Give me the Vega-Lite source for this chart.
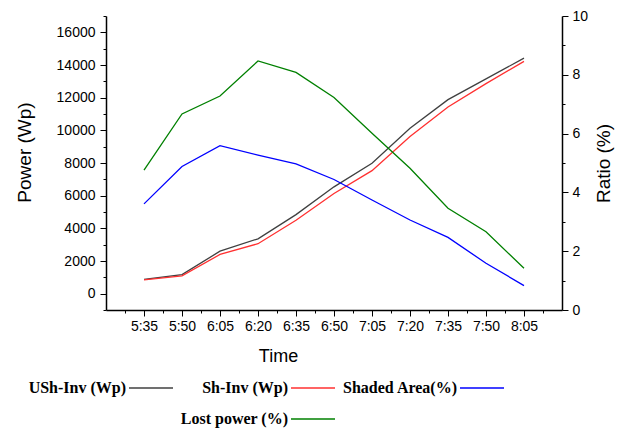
{
  "$schema": "https://vega.github.io/schema/vega-lite/v6.json",
  "width": 456,
  "height": 294,
  "autosize": "none",
  "padding": {"left": 106, "top": 16, "right": 65, "bottom": 122},
  "background": "white",
  "config": {
    "view": {"stroke": null},
    "axis": {
      "grid": false,
      "domainColor": "#000",
      "domainWidth": 1.5,
      "tickColor": "#000",
      "tickWidth": 1,
      "labelFont": "Liberation Sans",
      "labelFontSize": 14,
      "labelColor": "#000",
      "titleFont": "Liberation Sans",
      "titleFontSize": 19,
      "titleFontWeight": "normal",
      "titleColor": "#000"
    }
  },
  "data": {
    "values": [
      {"time": 335, "series": "USh-Inv (Wp)", "value": 880},
      {"time": 350, "series": "USh-Inv (Wp)", "value": 1170},
      {"time": 365, "series": "USh-Inv (Wp)", "value": 2600},
      {"time": 380, "series": "USh-Inv (Wp)", "value": 3360},
      {"time": 395, "series": "USh-Inv (Wp)", "value": 4840},
      {"time": 410, "series": "USh-Inv (Wp)", "value": 6540},
      {"time": 425, "series": "USh-Inv (Wp)", "value": 7980},
      {"time": 440, "series": "USh-Inv (Wp)", "value": 10130},
      {"time": 455, "series": "USh-Inv (Wp)", "value": 11880},
      {"time": 470, "series": "USh-Inv (Wp)", "value": 13150},
      {"time": 485, "series": "USh-Inv (Wp)", "value": 14420},
      {"time": 335, "series": "Sh-Inv (Wp)", "value": 840},
      {"time": 350, "series": "Sh-Inv (Wp)", "value": 1090},
      {"time": 365, "series": "Sh-Inv (Wp)", "value": 2400},
      {"time": 380, "series": "Sh-Inv (Wp)", "value": 3060},
      {"time": 395, "series": "Sh-Inv (Wp)", "value": 4490},
      {"time": 410, "series": "Sh-Inv (Wp)", "value": 6130},
      {"time": 425, "series": "Sh-Inv (Wp)", "value": 7530},
      {"time": 440, "series": "Sh-Inv (Wp)", "value": 9620},
      {"time": 455, "series": "Sh-Inv (Wp)", "value": 11430},
      {"time": 470, "series": "Sh-Inv (Wp)", "value": 12860},
      {"time": 485, "series": "Sh-Inv (Wp)", "value": 14220},
      {"time": 335, "series": "Shaded Area(%)", "value": 3.61},
      {"time": 350, "series": "Shaded Area(%)", "value": 4.88},
      {"time": 365, "series": "Shaded Area(%)", "value": 5.59},
      {"time": 380, "series": "Shaded Area(%)", "value": 5.27},
      {"time": 395, "series": "Shaded Area(%)", "value": 4.97},
      {"time": 410, "series": "Shaded Area(%)", "value": 4.44},
      {"time": 425, "series": "Shaded Area(%)", "value": 3.74},
      {"time": 440, "series": "Shaded Area(%)", "value": 3.06},
      {"time": 455, "series": "Shaded Area(%)", "value": 2.47},
      {"time": 470, "series": "Shaded Area(%)", "value": 1.59},
      {"time": 485, "series": "Shaded Area(%)", "value": 0.83},
      {"time": 335, "series": "Lost power (%)", "value": 4.76},
      {"time": 350, "series": "Lost power (%)", "value": 6.67},
      {"time": 365, "series": "Lost power (%)", "value": 7.28},
      {"time": 380, "series": "Lost power (%)", "value": 8.47},
      {"time": 395, "series": "Lost power (%)", "value": 8.08},
      {"time": 410, "series": "Lost power (%)", "value": 7.23},
      {"time": 425, "series": "Lost power (%)", "value": 6.01},
      {"time": 440, "series": "Lost power (%)", "value": 4.82},
      {"time": 455, "series": "Lost power (%)", "value": 3.46},
      {"time": 470, "series": "Lost power (%)", "value": 2.66},
      {"time": 485, "series": "Lost power (%)", "value": 1.42}
    ]
  },
  "encoding": {
    "x": {
      "field": "time",
      "type": "quantitative",
      "title": "Time",
      "scale": {"domain": [320, 500], "nice": false, "zero": false},
      "axis": {
        "titleFontSize": 18,
        "titleX": 172,
        "titlePadding": 14,
        "values": [327.5, 335, 342.5, 350, 357.5, 365, 372.5, 380, 387.5, 395, 402.5, 410, 417.5, 425, 432.5, 440, 447.5, 455, 462.5, 470, 477.5, 485, 492.5],
        "labelExpr": "datum.value % 15 === 5 ? floor(datum.value / 60) + ':' + (datum.value % 60 < 10 ? '0' : '') + (datum.value % 60) : ''",
        "tickSize": {"condition": {"test": "datum.value % 15 === 5", "value": 6}, "value": 3},
        "labelPadding": 3,
        "labelFlush": false,
        "labelOverlap": false
      }
    },
    "color": {
      "field": "series",
      "type": "nominal",
      "scale": {
        "domain": ["USh-Inv (Wp)", "Sh-Inv (Wp)", "Shaded Area(%)", " ", "Lost power (%)"],
        "range": ["#404040", "#ff3030", "#0000ff", "transparent", "#008000"]
      },
      "legend": {
        "title": null,
        "orient": "none",
        "direction": "horizontal",
        "legendX": 22,
        "legendY": 349,
        "columns": 3,
        "symbolType": "stroke",
        "symbolSize": 1936,
        "symbolStrokeWidth": 1.5,
        "labelAlign": "right",
        "labelOffset": -48,
        "labelFont": "Liberation Serif",
        "labelFontWeight": "bold",
        "labelFontSize": 16,
        "labelColor": "#000",
        "labelLimit": 300,
        "columnPadding": 4,
        "rowPadding": -7
      }
    }
  },
  "layer": [
    {
      "transform": [{"filter": "datum.series === 'USh-Inv (Wp)' || datum.series === 'Sh-Inv (Wp)'"}],
      "mark": {"type": "line", "strokeWidth": 1.3},
      "encoding": {
        "y": {
          "field": "value",
          "type": "quantitative",
          "scale": {"domain": [-1000, 17000], "nice": false, "zero": false},
          "axis": {
            "title": "Power (Wp)",
            "titleY": 136,
            "titleX": -82,
            "titleBaseline": "middle",
            "values": [-1000, 0, 1000, 2000, 3000, 4000, 5000, 6000, 7000, 8000, 9000, 10000, 11000, 12000, 13000, 14000, 15000, 16000, 17000],
            "labelExpr": "datum.value % 2000 === 0 ? datum.value : ''",
            "tickSize": {"condition": {"test": "datum.value % 2000 === 0", "value": 6}, "value": 3},
            "labelPadding": 5,
            "labelFlush": false,
            "labelOverlap": false
          }
        }
      }
    },
    {
      "transform": [{"filter": "datum.series === 'Shaded Area(%)' || datum.series === 'Lost power (%)'"}],
      "mark": {"type": "line", "strokeWidth": 1.3},
      "encoding": {
        "y": {
          "field": "value",
          "type": "quantitative",
          "scale": {"domain": [0, 10], "nice": false},
          "axis": {
            "orient": "right",
            "title": "Ratio (%)",
            "titleAngle": -90,
            "titleX": 41,
            "titleY": 147,
            "titleBaseline": "middle",
            "values": [0, 1, 2, 3, 4, 5, 6, 7, 8, 9, 10],
            "labelExpr": "datum.value % 2 === 0 ? datum.value : ''",
            "tickSize": {"condition": {"test": "datum.value % 2 === 0", "value": 6}, "value": 3},
            "labelPadding": 4,
            "labelFlush": false,
            "labelOverlap": false
          }
        }
      }
    }
  ],
  "resolve": {"scale": {"y": "independent"}}
}
